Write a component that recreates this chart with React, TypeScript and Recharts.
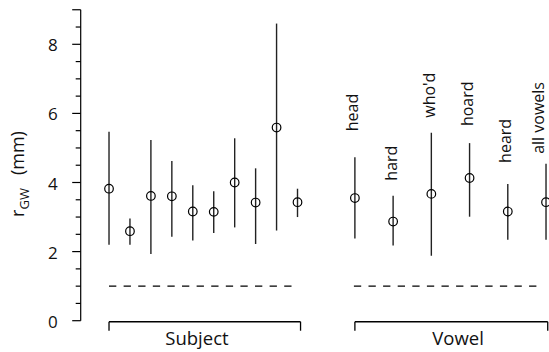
import React from 'react';
import {
  ComposedChart,
  Scatter,
  ErrorBar,
  XAxis,
  YAxis,
  ReferenceLine,
  ReferenceDot,
} from 'recharts';

// ---------- data ----------
const subjectIdx = [1, 2, 3, 4, 5, 6, 7, 8, 9, 10];
const subjectMean = [3.82, 2.59, 3.61, 3.6, 3.16, 3.15, 4.0, 3.42, 5.59, 3.43];
const subjectLow = [2.2, 2.2, 1.93, 2.43, 2.32, 2.54, 2.7, 2.22, 2.61, 3.0];
const subjectHigh = [5.47, 2.96, 5.23, 4.62, 3.92, 3.75, 5.28, 4.41, 8.6, 3.82];

const vowelIdx = [1, 2, 3, 4, 5, 6];
const vowelNames = ['head', 'hard', "who'd", 'hoard', 'heard', 'all vowels'];
const vowelMean = [3.55, 2.87, 3.67, 4.13, 3.16, 3.43];
const vowelLow = [2.38, 2.18, 1.88, 3.01, 2.34, 2.34];
const vowelHigh = [4.73, 3.62, 5.44, 5.14, 3.96, 4.54];

const chanceLevel = 1;
const groupNames = ['Subject', 'Vowel'];
const yTicks = [0, 0.5, 1, 1.5, 2, 2.5, 3, 3.5, 4, 4.5, 5, 5.5, 6, 6.5, 7, 7.5, 8, 8.5, 9];
const yTickLabels = [0, 2, 4, 6, 8];

// ---------- layout (not data) ----------
const W = 549;
const H = 352;
const FONT = "'Open Sans', 'Noto Sans', sans-serif";
const labelGapPx = [26, 15, 15, 17, 21, 10];
const subjDomain = [-0.352, 22.008];
const vowDomain = [-6.173, 6.078];
const subjBracket = [1, 10.145];
const vowBracket = [1, 6.045];
const subjDash = [1, 9.715];
const vowDash = [0.974, 5.8];
const bracketTop = -0.03;
const bracketBottom = -0.29;
const groupLabelX = [5.2, 3.7];
const groupLabelY = -0.5;

const subjectData = subjectIdx.map((x, i) => ({
  x,
  y: subjectMean[i],
  err: [subjectMean[i] - subjectLow[i], subjectHigh[i] - subjectMean[i]],
}));
const vowelData = vowelIdx.map((x, i) => ({
  x,
  y: vowelMean[i],
  err: [vowelMean[i] - vowelLow[i], vowelHigh[i] - vowelMean[i]],
}));
const vowelLabelData = vowelIdx.map((x, i) => ({
  x,
  y: vowelHigh[i],
  name: vowelNames[i],
  gap: labelGapPx[i],
}));

const Ring = (p: any) => (
  <circle cx={p.cx} cy={p.cy} r={4.3} fill="none" stroke="#000" strokeWidth={1.2} />
);

const WordLabel = (p: any) => {
  const lx = Math.min(p.cx + 3.5, W - 5);
  const ly = p.cy - p.payload.gap;
  return (
    <text
      x={lx}
      y={ly}
      transform={`rotate(-90, ${lx}, ${ly})`}
      textAnchor="start"
      fontSize={16}
      fontFamily={FONT}
      fill="#111"
    >
      {p.payload.name}
    </text>
  );
};

const YTick = (props: any) => {
  const { x, y, payload } = props;
  const v = payload.value;
  const major = v % 2 === 0 || v === 9;
  const len = major ? 8.5 : 5;
  return (
    <g>
      <line x1={x - len} x2={x} y1={y} y2={y} stroke="#000" strokeWidth={1.2} />
      {yTickLabels.includes(v) && (
        <text x={x - 23} y={y + 7} textAnchor="end" fontSize={17} fontFamily={FONT} fill="#111">
          {v}
        </text>
      )}
    </g>
  );
};

const YLabel = () => (
  <text
    x={24}
    y={174}
    transform="rotate(-90, 24, 174)"
    textAnchor="middle"
    fontSize={18}
    fontFamily={FONT}
    fill="#111"
  >
    <tspan>r</tspan>
    <tspan fontSize={13} dy={5}>GW</tspan>
    <tspan dy={-5} dx={13}>(mm)</tspan>
  </text>
);

const lineStyle = { stroke: '#000', strokeWidth: 1.3 };

export default function App() {
  return (
    <div style={{ position: 'absolute', left: 0, top: 0, width: W, height: H, background: '#fff', fontFamily: FONT }}>
      <ComposedChart width={W} height={H} margin={{ top: 9.75, right: 0, bottom: 31.3, left: 0 }}>
        <XAxis xAxisId="s" type="number" dataKey="x" domain={subjDomain} hide allowDataOverflow />
        <XAxis xAxisId="v" type="number" dataKey="x" domain={vowDomain} hide allowDataOverflow />
        <YAxis
          type="number"
          domain={[0, 9]}
          ticks={yTicks}
          interval={0}
          tickSize={0}
          tickMargin={0}
          tickLine={false}
          tick={(p: any) => <YTick {...p} />}
          axisLine={{ stroke: '#000', strokeWidth: 1.2 }}
          width={80.7}
          allowDataOverflow
          label={{ content: () => <YLabel /> }}
        />

        {/* chance-level dashed lines */}
        <ReferenceLine
          xAxisId="s"
          segment={[{ x: subjDash[0], y: chanceLevel }, { x: subjDash[1], y: chanceLevel }]}
          stroke="#000"
          strokeWidth={1.3}
          strokeDasharray="7.3 7.3"
          ifOverflow="visible"
        />
        <ReferenceLine
          xAxisId="v"
          segment={[{ x: vowDash[0], y: chanceLevel }, { x: vowDash[1], y: chanceLevel }]}
          stroke="#000"
          strokeWidth={1.3}
          strokeDasharray="7.3 7.3"
          ifOverflow="visible"
        />

        {/* group brackets */}
        <ReferenceLine xAxisId="s" segment={[{ x: subjBracket[0], y: bracketTop }, { x: subjBracket[1], y: bracketTop }]} {...lineStyle} ifOverflow="visible" />
        <ReferenceLine xAxisId="s" segment={[{ x: subjBracket[0], y: bracketTop }, { x: subjBracket[0], y: bracketBottom }]} {...lineStyle} ifOverflow="visible" />
        <ReferenceLine xAxisId="s" segment={[{ x: subjBracket[1], y: bracketTop }, { x: subjBracket[1], y: bracketBottom }]} {...lineStyle} ifOverflow="visible" />
        <ReferenceLine xAxisId="v" segment={[{ x: vowBracket[0], y: bracketTop }, { x: vowBracket[1], y: bracketTop }]} {...lineStyle} ifOverflow="visible" />
        <ReferenceLine xAxisId="v" segment={[{ x: vowBracket[0], y: bracketTop }, { x: vowBracket[0], y: bracketBottom }]} {...lineStyle} ifOverflow="visible" />
        <ReferenceLine xAxisId="v" segment={[{ x: vowBracket[1], y: bracketTop }, { x: vowBracket[1], y: bracketBottom }]} {...lineStyle} ifOverflow="visible" />

        <ReferenceDot
          xAxisId="s"
          x={groupLabelX[0]}
          y={groupLabelY}
          r={1}
          fill="none"
          stroke="none"
          ifOverflow="visible"
          label={{ value: groupNames[0], position: 'center', fontSize: 18.5, fill: '#111', fontFamily: FONT }}
        />
        <ReferenceDot
          xAxisId="v"
          x={groupLabelX[1]}
          y={groupLabelY}
          r={1}
          fill="none"
          stroke="none"
          ifOverflow="visible"
          label={{ value: groupNames[1], position: 'center', fontSize: 18.5, fill: '#111', fontFamily: FONT }}
        />

        <Scatter xAxisId="s" data={subjectData} dataKey="y" shape={Ring} isAnimationActive={false}>
          <ErrorBar dataKey="err" direction="y" width={0} stroke="#222" strokeWidth={1.4} isAnimationActive={false} />
        </Scatter>
        <Scatter xAxisId="v" data={vowelData} dataKey="y" shape={Ring} isAnimationActive={false}>
          <ErrorBar dataKey="err" direction="y" width={0} stroke="#222" strokeWidth={1.4} isAnimationActive={false} />
        </Scatter>
        <Scatter xAxisId="v" data={vowelLabelData} dataKey="y" shape={WordLabel} isAnimationActive={false} />
      </ComposedChart>
    </div>
  );
}
